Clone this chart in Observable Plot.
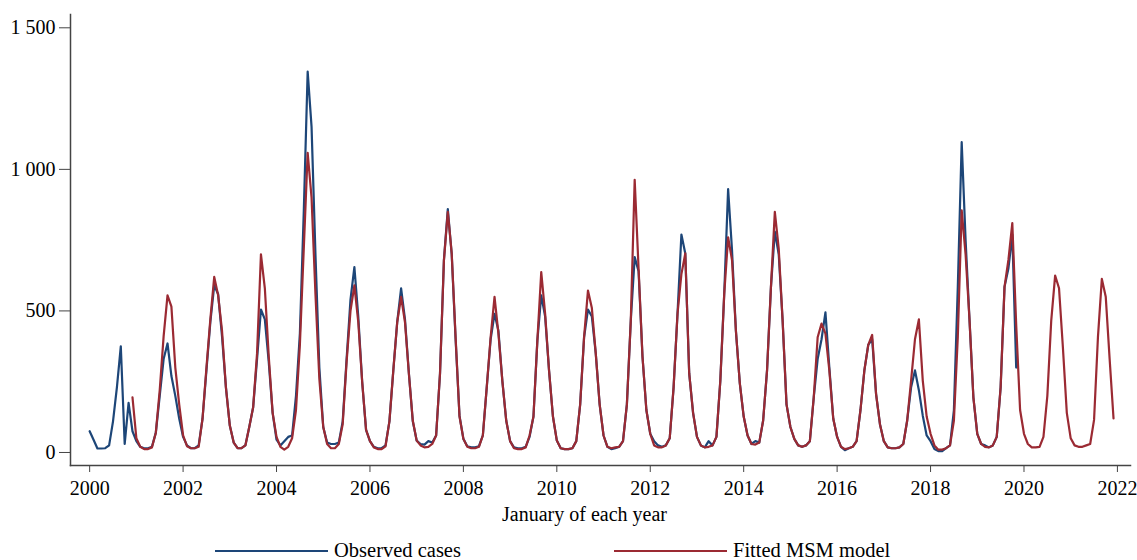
<!DOCTYPE html>
<html>
<head>
<meta charset="utf-8">
<script src="https://cdn.jsdelivr.net/npm/d3@7"></script>
<script src="https://cdn.jsdelivr.net/npm/@observablehq/plot@0.6"></script>
<style>
  html, body { margin: 0; padding: 0; background: #fff; }
  #wrap { position: relative; width: 1137px; height: 560px; overflow: hidden; font-family: "Liberation Serif", "Times New Roman", serif; }
  .leg { position: absolute; top: 539px; display: flex; align-items: center; font-size: 20.5px; color: #000; white-space: nowrap; }
  .leg .sw { display: inline-block; width: 113px; height: 0; border-top: 2px solid; margin-right: 6px; }
</style>
</head>
<body>
<div id="wrap"></div>
<script>
// ---- data (monthly values) ----
const observedStart = 2000;   // January 2000
const observed = [
  75, 45, 14, 14, 15, 25, 110, 230, 375, 30, 175, 75,        // 2000
  40, 20, 15, 15, 20, 70, 200, 330, 385, 270, 200, 120,      // 2001
  55, 25, 15, 15, 25, 120, 290, 460, 590, 560, 410, 230,     // 2002
  95, 35, 15, 15, 25, 90, 160, 330, 505, 470, 320, 140,      // 2003
  45, 25, 40, 55, 60, 200, 420, 850, 1345, 1150, 700, 300,   // 2004
  90, 35, 30, 30, 35, 110, 330, 540, 655, 480, 250, 80,      // 2005
  40, 20, 15, 15, 25, 110, 290, 460, 580, 470, 280, 110,     // 2006
  42, 30, 28, 40, 35, 60, 280, 680, 860, 700, 400, 130,      // 2007
  48, 22, 18, 18, 22, 60, 230, 400, 490, 430, 254, 113,      // 2008
  40, 18, 15, 15, 20, 55, 127, 395, 555, 480, 290, 127,      // 2009
  42, 15, 12, 12, 15, 40, 170, 407, 505, 480, 350, 170,      // 2010
  60, 20, 12, 15, 20, 40, 170, 466, 690, 640, 340, 150,      // 2011
  66, 40, 25, 20, 25, 50, 231, 490, 770, 703, 280, 140,      // 2012
  55, 25, 18, 40, 25, 55, 254, 560, 930, 715, 430, 245,      // 2013
  127, 60, 30, 40, 35, 113, 290, 584, 780, 700, 466, 170,    // 2014
  90, 48, 25, 20, 25, 40, 195, 330, 400, 495, 300, 120,      // 2015
  55, 20, 8, 15, 20, 40, 150, 290, 380, 400, 207, 100,       // 2016
  40, 18, 15, 15, 18, 30, 113, 230, 290, 220, 130, 60,       // 2017
  40, 12, 5, 5, 15, 25, 150, 584, 1096, 750, 470, 195,       // 2018
  66, 30, 25, 18, 25, 55, 230, 585, 650, 770, 300            // 2019 (to Nov)
];
const fittedStart = 2000 + 11 / 12;   // December 2000
const fitted = [
  195,                                                       // Dec 2000
  50, 20, 12, 12, 18, 70, 220, 410, 555, 515, 300, 170,      // 2001
  60, 22, 15, 15, 20, 120, 300, 470, 620, 555, 430, 230,     // 2002
  95, 35, 15, 15, 25, 90, 160, 350, 700, 580, 340, 140,      // 2003
  55, 20, 10, 20, 50, 150, 380, 720, 1058, 900, 560, 260,    // 2004
  90, 30, 15, 15, 30, 100, 320, 500, 590, 460, 250, 80,      // 2005
  40, 18, 12, 12, 22, 110, 290, 460, 550, 460, 278, 113,     // 2006
  42, 25, 18, 20, 30, 60, 280, 678, 850, 703, 407, 127,      // 2007
  48, 20, 15, 15, 20, 60, 231, 407, 550, 420, 254, 113,      // 2008
  40, 15, 12, 12, 18, 60, 127, 395, 637, 490, 290, 127,      // 2009
  42, 15, 12, 12, 15, 40, 170, 407, 572, 510, 350, 170,      // 2010
  60, 20, 15, 18, 20, 40, 170, 466, 963, 650, 340, 150,      // 2011
  66, 25, 18, 18, 25, 50, 231, 490, 630, 703, 280, 140,      // 2012
  55, 25, 18, 20, 25, 55, 254, 560, 760, 680, 430, 245,      // 2013
  127, 60, 30, 28, 35, 113, 290, 584, 850, 720, 466, 170,    // 2014
  90, 48, 25, 20, 25, 40, 195, 407, 455, 420, 290, 120,      // 2015
  55, 20, 12, 15, 20, 40, 150, 290, 380, 415, 207, 100,      // 2016
  40, 18, 15, 15, 18, 30, 113, 254, 400, 470, 254, 127,      // 2017
  66, 25, 10, 10, 15, 25, 113, 408, 855, 700, 470, 195,      // 2018
  66, 30, 20, 18, 25, 55, 230, 585, 680, 810, 450, 150,      // 2019
  66, 30, 18, 18, 20, 55, 200, 466, 625, 580, 370, 140,      // 2020
  50, 25, 20, 20, 25, 30, 115, 408, 613, 550, 330, 120       // 2021
];
const seriesNames = ["Observed cases", "Fitted MSM model"];
const seriesColors = ["#1d4678", "#9b2a33"];
const xTicks = [2000, 2002, 2004, 2006, 2008, 2010, 2012, 2014, 2016, 2018, 2020, 2022];
const yTicks = [0, 500, 1000, 1500];
const yTickLabels = ["0", "500", "1 000", "1 500"];
const xTitle = "January of each year";
const xDomain = [1999.59, 2022.28];
const yDomain = [-46, 1547];

// ---- build table ----
const rows = [
  ...observed.map((v, i) => ({t: observedStart + i / 12, v, s: seriesNames[0]})),
  ...fitted.map((v, i) => ({t: fittedStart + i / 12, v, s: seriesNames[1]}))
];

const chart = Plot.plot({
  width: 1137,
  height: 532,
  marginLeft: 70,
  marginRight: 7,
  marginTop: 14,
  marginBottom: 67,
  style: {fontFamily: "'Liberation Serif', 'Times New Roman', serif", fontSize: "20px", color: "#000", background: "#fff"},
  x: {domain: xDomain},
  y: {domain: yDomain},
  color: {domain: seriesNames, range: seriesColors},
  marks: [
    Plot.frame({anchor: "left", stroke: "#444", strokeWidth: 1.5}),
    Plot.frame({anchor: "bottom", stroke: "#444", strokeWidth: 1.5}),
    Plot.axisY({ticks: yTicks, tickFormat: (d) => yTickLabels[yTicks.indexOf(d)], tickSize: 11, tickPadding: 4, label: null, stroke: "#444", fill: "#000", fontSize: 20}),
    Plot.axisX({ticks: xTicks, tickFormat: (d) => String(d), tickSize: 7, tickPadding: 8, label: null, stroke: "#444", fill: "#000", fontSize: 20}),
    Plot.text([xTitle], {frameAnchor: "bottom", dy: 55, dx: -16, text: (d) => d, fontSize: 20, fill: "#000"}),
    Plot.line(rows, {x: "t", y: "v", z: "s", stroke: "s", strokeWidth: 2.2, curve: "linear"})
  ]
});

const wrap = document.getElementById("wrap");
wrap.appendChild(chart);

const legendPos = [{left: 215}, {left: 614}];
seriesNames.forEach((name, i) => {
  const d = document.createElement("div");
  d.className = "leg";
  d.style.left = legendPos[i].left + "px";
  const sw = document.createElement("span");
  sw.className = "sw";
  sw.style.borderColor = seriesColors[i];
  const tx = document.createElement("span");
  tx.textContent = name;
  d.appendChild(sw);
  d.appendChild(tx);
  wrap.appendChild(d);
});
</script>
</body>
</html>
